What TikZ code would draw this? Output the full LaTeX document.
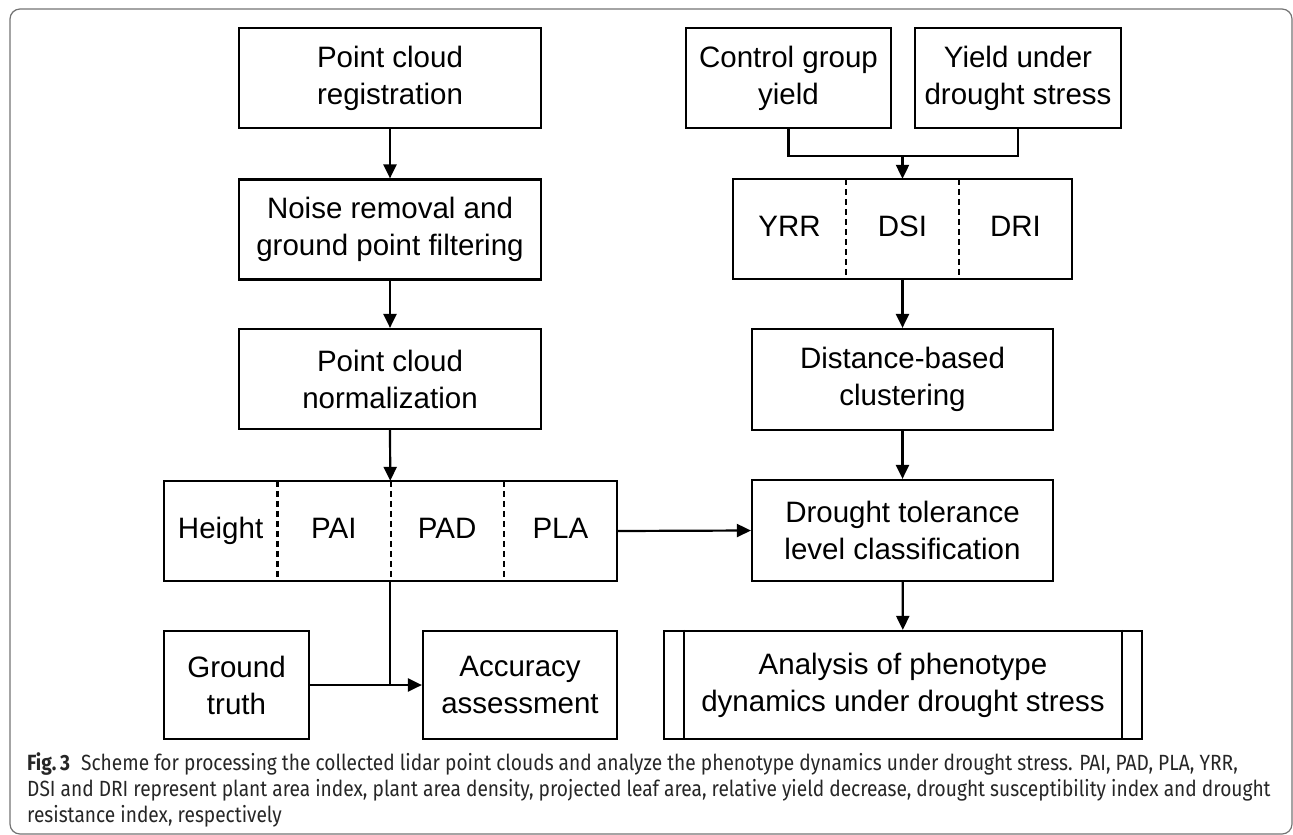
\documentclass[tikz,border=0pt]{standalone}
\usepackage{fontspec}
\setmainfont{Liberation Sans}
\newfontfamily\capfont[FakeStretch=0.87]{Fira Sans}
\usetikzlibrary{arrows.meta}

\begin{document}
\begin{tikzpicture}[x=1pt,y=-1pt,
	box/.style={shape=rectangle,draw=black,line width=2.2pt,inner sep=0pt,align=center,font=\fontsize{29.5}{37}\selectfont},
	cell/.style={shape=rectangle,inner sep=0pt,minimum width=113.25pt,minimum height=100pt,text height=21pt,text depth=6pt,font=\fontsize{29.5}{37}\selectfont},
	arr/.style={-{Triangle[length=14pt,width=13pt]},line width=2.2pt},
	line/.style={line width=2.2pt},
	divider/.style={line width=2.2pt,dash pattern=on 6pt off 4pt},
	caption/.style={anchor=base west,inner sep=0pt,text=black!85,font=\capfont\fontsize{22}{26}\selectfont}]
	\useasboundingbox (0,0) rectangle (1293,835);
	\draw[black!55,line width=1.2pt,rounded corners=10pt] (10,9) rectangle (1292,834);

	% left column
	\node[box,minimum width=302pt,minimum height=100pt] (reg)   at (390,78)    {Point cloud\\registration};
	\node[box,minimum width=302pt,minimum height=100pt] (noise) at (390,229.5) {Noise removal and\\ground point filtering};
	\node[box,minimum width=302pt,minimum height=100pt] (norm)  at (390,379)   {Point cloud\\normalization};
	\node[cell] (hgt) at (220.6,531) {Height};
	\node[cell] (pai) at (333.9,531) {PAI};
	\node[cell] (pad) at (447.1,531) {PAD};
	\node[cell] (pla) at (560.4,531) {PLA};
	\draw[line] (hgt.north west) rectangle (pla.south east);
	\draw[divider] (hgt.north east) -- (hgt.south east);
	\draw[divider] (pai.north east) -- (pai.south east);
	\draw[divider] (pad.north east) -- (pad.south east);
	\node[box,minimum width=145pt,minimum height=108pt] (gt)  at (236.5,685) {Ground\\truth};
	\node[box,minimum width=194pt,minimum height=108pt] (acc) at (520,685)   {Accuracy\\assessment};

	% right column
	\node[box,minimum width=205pt,minimum height=100pt] (ctrl) at (788.5,78) {Control group\\yield};
	\node[box,minimum width=206pt,minimum height=100pt] (yld)  at (1018,78)  {Yield under\\drought stress};
	\node[cell] (yrr) at (789.5,229)  {YRR};
	\node[cell] (dsi) at (902.5,229)  {DSI};
	\node[cell] (dri) at (1015.5,229) {DRI};
	\draw[line] (yrr.north west) rectangle (dri.south east);
	\draw[divider] (yrr.north east) -- (yrr.south east);
	\draw[divider] (dsi.north east) -- (dsi.south east);
	\node[box,minimum width=301pt,minimum height=101pt] (dist) at (902.5,379.5) {Distance-based\\clustering};
	\node[box,minimum width=301pt,minimum height=101pt] (tol)  at (902.5,530.5) {Drought tolerance\\level classification};
	\node[box,minimum width=478pt,minimum height=108pt] (ana)  at (903,685) {Analysis of phenotype\\dynamics under drought stress};
	\draw[line] ([xshift=21pt]ana.north west) -- ([xshift=21pt]ana.south west);
	\draw[line] ([xshift=-21pt]ana.north east) -- ([xshift=-21pt]ana.south east);

	% connectors
	\draw[arr] (reg) -- (noise);
	\draw[arr] (noise) -- (norm);
	\draw[arr] (norm.south) -- (pad.north west);
	\draw[line] (pad.south west) -- (pad.south west |- acc.west);
	\draw[arr] (gt) -- (acc);
	\draw[line] (ctrl.south) -- ++(0,27) -| (yld.south);
	\coordinate (join) at (dsi.north |- 0,155);
	\draw[arr] (join) -- (dsi.north);
	\draw[arr] (dsi.south) -- (dist);
	\draw[arr] (dist) -- (tol);
	\draw[arr] (pla.east) -- (tol.west);
	\draw[arr] (tol) -- (ana);

	% caption
	\node[caption] (cap1) at (27,770) {\textbf{Fig.\,3}\enspace Scheme for processing the collected lidar point clouds and analyze the phenotype dynamics under drought stress. PAI, PAD, PLA, YRR,};
	\node[caption] (cap2) at (27,796) {DSI and DRI represent plant area index, plant area density, projected leaf area, relative yield decrease, drought susceptibility index and drought};
	\node[caption] (cap3) at (27,822) {resistance index, respectively};
\end{tikzpicture}
\end{document}
